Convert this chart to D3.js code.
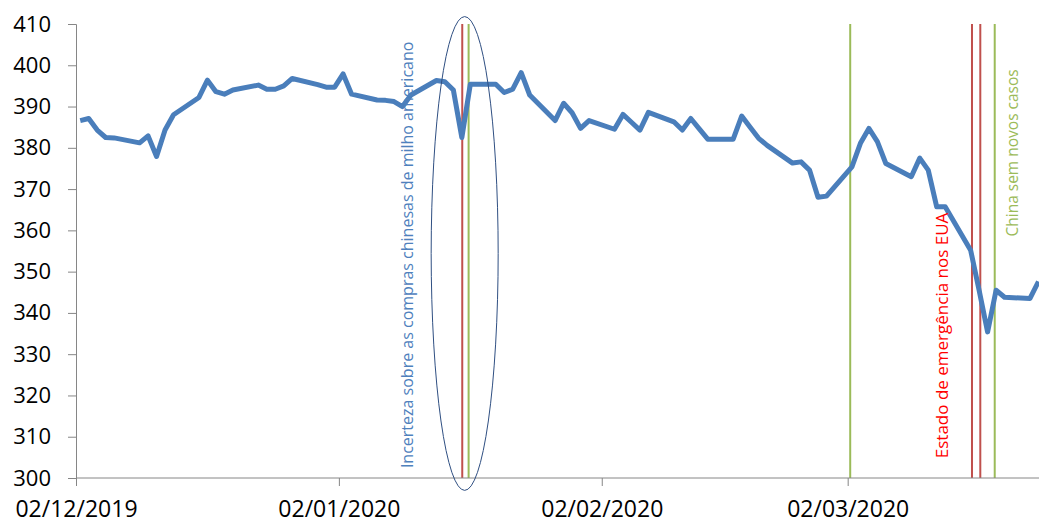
<!DOCTYPE html>
<html><head><meta charset="utf-8">
<script src="https://cdn.jsdelivr.net/npm/d3@7"></script>
<style>
html,body{margin:0;padding:0;background:#fff;overflow:hidden}
text{font-family:"Open Sans",sans-serif}
</style></head>
<body><svg id="c" width="1039" height="524"></svg>
<script>
// ---- data ----
const dates = ["2019-12-02","2019-12-03","2019-12-04","2019-12-05","2019-12-06",
"2019-12-09","2019-12-10","2019-12-11","2019-12-12","2019-12-13",
"2019-12-16","2019-12-17","2019-12-18","2019-12-19","2019-12-20",
"2019-12-23","2019-12-24","2019-12-25","2019-12-26","2019-12-27",
"2019-12-30","2019-12-31","2020-01-01","2020-01-02","2020-01-03",
"2020-01-06","2020-01-07","2020-01-08","2020-01-09","2020-01-10",
"2020-01-13","2020-01-14","2020-01-15","2020-01-16","2020-01-17",
"2020-01-20","2020-01-21","2020-01-22","2020-01-23","2020-01-24",
"2020-01-27","2020-01-28","2020-01-29","2020-01-30","2020-01-31",
"2020-02-03","2020-02-04","2020-02-05","2020-02-06","2020-02-07",
"2020-02-10","2020-02-11","2020-02-12","2020-02-13","2020-02-14",
"2020-02-17","2020-02-18","2020-02-19","2020-02-20","2020-02-21",
"2020-02-24","2020-02-25","2020-02-26","2020-02-27","2020-02-28",
"2020-03-02","2020-03-03","2020-03-04","2020-03-05","2020-03-06",
"2020-03-09","2020-03-10","2020-03-11","2020-03-12","2020-03-13",
"2020-03-16","2020-03-17","2020-03-18","2020-03-19","2020-03-20",
"2020-03-23","2020-03-24"];
const prices = [386.6,387.1,384.3,382.5,382.4,
381.2,382.9,377.9,384.3,388.0,
392.2,396.4,393.6,393.0,394.0,
395.2,394.2,394.2,395.0,396.8,
395.3,394.7,394.7,397.9,393.0,
391.6,391.5,391.2,390.0,392.8,
396.3,396.0,394.0,382.5,395.4,
395.4,393.4,394.2,398.2,392.8,
386.6,390.8,388.5,384.7,386.6,
384.5,388.1,386.2,384.3,388.6,
386.3,384.3,387.1,384.6,382.1,
382.1,387.7,385.0,382.3,380.6,
376.3,376.6,374.6,368.0,368.3,
375.4,381.1,384.7,381.5,376.2,
373.0,377.5,374.6,365.7,365.7,
355.2,345.5,335.4,345.5,343.8,
343.5,347.6];
const yTicks = [300,310,320,330,340,350,360,370,380,390,400,410];
const xTickDates = ["2019-12-02","2020-01-02","2020-02-02","2020-03-02"];
const xTickLabels = ["02/12/2019","02/01/2020","02/02/2020","02/03/2020"];
const eventTimes = ["2020-01-16T13:10","2020-01-17T07:10","2020-03-02T07:10","2020-03-16T15:50","2020-03-17T15:20","2020-03-19T08:10"];
const eventColors = ["#C0504D","#9BBB59","#9BBB59","#C0504D","#C0504D","#9BBB59"];
const annTexts = ["Incerteza sobre as compras chinesas de milho americano","Estado de emergência nos EUA","China sem novos casos"];
const annTimes = ["2020-01-10T17:45","2020-03-13T20:00","2020-03-22T02:00"];
const annValues = [302.4,304.8,358.5];
const annColors = ["#4F81BD","#FF0000","#9BBB59"];
const annSizes = [16,17,15.5];
const ellipseCenter = {time:"2020-01-16T20:00", value:354.4, daysHalf:3.95, valueHalf:57.4};

// ---- chart ----
const svg = d3.select("#c");
const pu = d3.utcParse("%Y-%m-%d");
const pt = d3.utcParse("%Y-%m-%dT%H:%M");
const x = d3.scaleUtc().domain([pu("2019-12-02"), pu("2020-03-25")]).range([76, 76 + 114*8.48]);
const y = d3.scaleLinear().domain([300,410]).range([478,24]);

const data = dates.map((d,i)=>({t:d3.utcHour.offset(pu(d),12), v:prices[i]}));

// axes
const gy = svg.append("g").attr("transform","translate(76,0)")
  .call(d3.axisLeft(y).tickValues(yTicks).tickSize(8).tickPadding(17).tickFormat(d3.format("d")));
gy.selectAll("path,line").attr("stroke","#868686");
gy.selectAll("text").attr("font-size","22px").attr("fill","#000").attr("font-family","Open Sans");

// events
svg.append("g").selectAll("line").data(eventTimes).join("line")
  .attr("x1",d=>x(pt(d))).attr("x2",d=>x(pt(d)))
  .attr("y1",y(410)).attr("y2",y(300))
  .attr("stroke",(d,i)=>eventColors[i]).attr("stroke-width",2);

const gx = svg.append("g").attr("transform","translate(0,478)")
  .call(d3.axisBottom(x).tickValues(xTickDates.map(pu)).tickSize(8).tickPadding(15)
     .tickFormat((d,i)=>xTickLabels[i]));
gx.select(".domain").attr("d","M76,0H1039");
gx.selectAll("path,line").attr("stroke","#868686");
gx.selectAll("text").attr("font-size","23px").attr("fill","#000").attr("font-family","Open Sans");

// line
svg.append("path").datum(data)
  .attr("d", d3.line().x(d=>x(d.t)).y(d=>y(d.v)))
  .attr("fill","none").attr("stroke","#4A7EBB").attr("stroke-width",5)
  .attr("stroke-linejoin","round");

// ellipse
const ec = pt(ellipseCenter.time);
svg.append("ellipse")
  .attr("cx",x(ec)).attr("cy",y(ellipseCenter.value))
  .attr("rx",x(d3.utcMinute.offset(ec, ellipseCenter.daysHalf*1440))-x(ec))
  .attr("ry",y(ellipseCenter.value-ellipseCenter.valueHalf)-y(ellipseCenter.value))
  .attr("fill","none").attr("stroke","#2F4F82").attr("stroke-width",1);

// annotations
annTexts.forEach((s,i)=>{
  const tx = x(pt(annTimes[i])), ty = y(annValues[i]);
  svg.append("text").attr("transform",`translate(${tx},${ty}) rotate(-90)`)
    .attr("font-size",annSizes[i]+"px").attr("fill",annColors[i]).text(s);
});
</script></body></html>
